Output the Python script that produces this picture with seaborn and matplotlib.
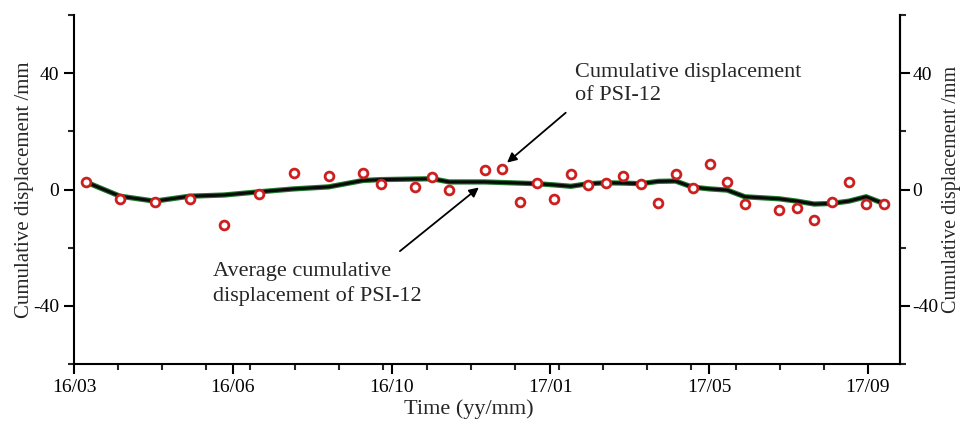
import matplotlib
matplotlib.use("Agg")
import matplotlib.pyplot as plt
import seaborn as sns
import pandas as pd
from matplotlib.ticker import FixedLocator, MultipleLocator

# ---- data (x in months since 2016-03) ----
t_obs = [0.265, 1.043, 1.830, 2.623, 3.400, 4.194, 4.981, 5.774, 6.552, 6.953,
         7.731, 8.123, 8.508, 9.318, 9.710, 10.104, 10.490, 10.875, 11.267, 11.660,
         12.061, 12.453, 12.854, 13.246, 13.641, 14.026, 14.418, 14.810, 15.212, 15.990,
         16.391, 16.783, 17.177, 17.570, 17.962, 18.356]
disp_obs = [2.6, -3.1, -4.2, -3.1, -12.1, -1.6, 5.6, 4.6, 5.7, 1.8,
            0.9, 4.2, -0.1, 6.7, 7.2, -4.2, 2.1, -3.3, 5.5, 1.4,
            2.1, 4.8, 1.8, -4.5, 5.4, 0.5, 8.9, 2.5, -5.0, -7.0,
            -6.2, -10.6, -4.3, 2.5, -4.9, -4.9]
disp_avg = [2.6, -2.3, -4.0, -2.3, -1.9, -0.8, 0.2, 0.9, 3.1, 3.4,
            3.6, 3.7, 2.6, 2.6, 2.4, 2.2, 2.0, 1.6, 1.1, 2.0,
            2.3, 2.2, 2.0, 2.8, 2.9, 0.8, 0.2, -0.2, -2.5, -3.2,
            -4.0, -5.0, -4.8, -4.0, -2.5, -4.8]
tick_pos = [0, 3.6, 7.2, 10.8, 14.4, 18]
tick_labels = ["16/03", "16/06", "16/10", "17/01", "17/05", "17/09"]
y_ticks = [-40, 0, 40]

df = pd.DataFrame({"t": t_obs, "obs": disp_obs, "avg": disp_avg})

sns.set_theme(style="ticks")
plt.rcParams["font.family"] = ["Liberation Serif", "DejaVu Serif"]
plt.rcParams["axes.unicode_minus"] = False

fig = plt.figure(figsize=(9.63, 4.25), dpi=100)
ax = fig.add_axes([74 / 963, 1 - 364 / 425, (900 - 74) / 963, (364 - 15) / 425])

sns.lineplot(data=df, x="t", y="avg", ax=ax, color="#1f7a2e", lw=3.8, zorder=2)
sns.lineplot(data=df, x="t", y="avg", ax=ax, color="#0a0a0a", lw=2.2, zorder=3)
sns.scatterplot(data=df, x="t", y="obs", ax=ax, marker="o", s=40,
                facecolor="white", edgecolor="#cc1f1f", linewidth=2.0, zorder=4)

ax.set_xlim(0, 18.73)
ax.set_ylim(-60, 60)
ax.xaxis.set_major_locator(FixedLocator(tick_pos))
ax.set_xticklabels(tick_labels)
ax.xaxis.set_minor_locator(MultipleLocator(1))
ax.yaxis.set_major_locator(FixedLocator(y_ticks))
ax.yaxis.set_minor_locator(FixedLocator([-60, -20, 20, 60]))

for s in ["left", "right", "bottom"]:
    ax.spines[s].set_linewidth(1.5)
    ax.spines[s].set_color("black")
ax.spines["top"].set_visible(False)

ax.tick_params(axis="both", which="major", direction="out", length=7, width=1.5,
               labelsize=14, colors="black")
ax.tick_params(axis="both", which="minor", direction="out", length=4, width=1.5)
ax.set_xlabel("Time (yy/mm)", fontsize=16)
ax.xaxis.set_label_coords(0.478, -0.10)
ax.set_ylabel("Cumulative displacement /mm", fontsize=15)
ax.yaxis.set_label_coords(-0.048, 0.5)

ax2 = ax.twinx()
ax2.set_ylim(-60, 60)
ax2.yaxis.set_major_locator(FixedLocator(y_ticks))
ax2.yaxis.set_minor_locator(FixedLocator([-60, -20, 20, 60]))
for s in ["left", "top", "bottom"]:
    ax2.spines[s].set_visible(False)
ax2.spines["right"].set_linewidth(1.5)
ax2.spines["right"].set_color("black")
ax2.tick_params(axis="y", which="major", direction="out", length=7, width=1.5,
                labelsize=14, colors="black", pad=2.0)
ax2.tick_params(axis="y", which="minor", direction="out", length=4, width=1.5)
ax2.set_ylabel("Cumulative displacement /mm", fontsize=14.5)
ax2.yaxis.set_label_coords(1.051, 0.5)
ax2.grid(False)
ax.grid(False)

arrow_kw = dict(arrowstyle="-|>", color="black", lw=1.3, shrinkA=0, shrinkB=0,
                mutation_scale=14)
ax.text(11.35, 43.5, "Cumulative displacement\nof PSI-12", fontsize=16,
        ha="left", va="top", linespacing=1.3)
ax.annotate("", xy=(9.82, 9.25), xytext=(11.15, 26.4), arrowprops=arrow_kw)
ax.text(3.15, -25.0, "Average cumulative\ndisplacement of PSI-12", fontsize=16,
        ha="left", va="top", linespacing=1.3)
ax.annotate("", xy=(9.18, 0.7), xytext=(7.39, -21.2), arrowprops=arrow_kw)

fig.savefig("out.png", dpi=100)
